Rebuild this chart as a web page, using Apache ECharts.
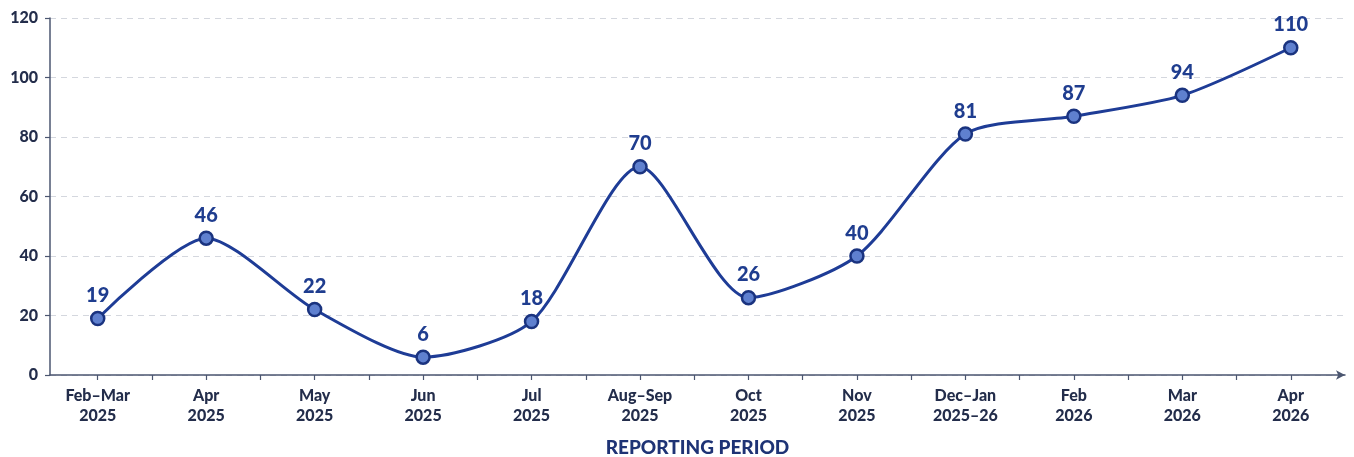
<!DOCTYPE html>
<html>
<head>
<meta charset="utf-8">
<script src="https://cdn.jsdelivr.net/npm/echarts@6/dist/echarts.min.js"></script>
<style>
  html, body { margin: 0; padding: 0; background: #ffffff; }
  #chart { width: 1354px; height: 457px; }
</style>
</head>
<body>
<div id="chart"></div>
<script>
// Reporting periods and counts per period
const periods = ['Feb–Mar\n2025', 'Apr\n2025', 'May\n2025', 'Jun\n2025', 'Jul\n2025', 'Aug–Sep\n2025',
                 'Oct\n2025', 'Nov\n2025', 'Dec–Jan\n2025–26', 'Feb\n2026', 'Mar\n2026', 'Apr\n2026'];
const counts = [19, 46, 22, 6, 18, 70, 26, 40, 81, 87, 94, 110];
const yTicks = [0, 20, 40, 60, 80, 100, 120];

const FONT = 'Lato, "Open Sans", sans-serif';
const ink = '#232d4b';
const blue = '#1e3c96';

// period positions on a numeric axis, ticks at each period and halfway between
const labelPos = periods.map((_, i) => i);
const tickPos = [];
periods.forEach((_, i) => { tickPos.push(i); if (i < periods.length - 1) tickPos.push(i + 0.5); });

const chart = echarts.init(document.getElementById('chart'), null, { renderer: 'canvas' });
chart.setOption({
  backgroundColor: '#ffffff',
  animation: false,
  grid: { left: 50, right: 9, top: 18, bottom: 82, containLabel: false, outerBoundsMode: 'none' },
  xAxis: {
    type: 'value',
    min: -0.44,
    max: 11.5,
    name: 'REPORTING PERIOD',
    nameLocation: 'middle',
    nameGap: 63,
    nameTextStyle: { fontFamily: FONT, fontWeight: 900, fontSize: 19, color: '#1e3375' },
    axisLine: { show: true, onZero: false, lineStyle: { color: '#4b5670', width: 1.5 }, symbol: ['none', 'arrow'], symbolSize: [7, 9] },
    axisTick: { show: true, customValues: tickPos, length: 5, lineStyle: { color: '#4b5670', width: 1.2 } },
    axisLabel: {
      customValues: labelPos,
      formatter: v => periods[Math.round(v)],
      fontFamily: FONT, fontWeight: 900, fontSize: 16, color: ink, lineHeight: 20, margin: 11
    },
    splitLine: { show: false }
  },
  yAxis: {
    type: 'value',
    min: 0,
    max: 120,
    interval: 20,
    axisLine: { show: true, onZero: false, lineStyle: { color: '#4b5670', width: 1.5 } },
    axisTick: { show: true, length: 5, lineStyle: { color: '#4b5670', width: 1.2 } },
    axisLabel: {
      formatter: v => yTicks.includes(v) ? String(v) : '',
      fontFamily: FONT, fontWeight: 900, fontSize: 16, color: ink, margin: 12
    },
    splitLine: { show: true, lineStyle: { color: '#d4d7de', type: [6, 5], width: 1 } }
  },
  series: [{
    type: 'line',
    data: counts.map((v, i) => [i, v]),
    smooth: 0.25,
    symbol: 'circle',
    symbolSize: 13,
    lineStyle: { color: blue, width: 3 },
    itemStyle: { color: '#5f80cf', borderColor: '#1a337f', borderWidth: 2.5 },
    label: {
      show: true,
      position: 'top',
      distance: 5,
      formatter: p => p.value[1],
      fontFamily: FONT, fontWeight: 900, fontSize: 20, color: '#1f3d8f'
    },
    z: 3
  }]
});
</script>
</body>
</html>
